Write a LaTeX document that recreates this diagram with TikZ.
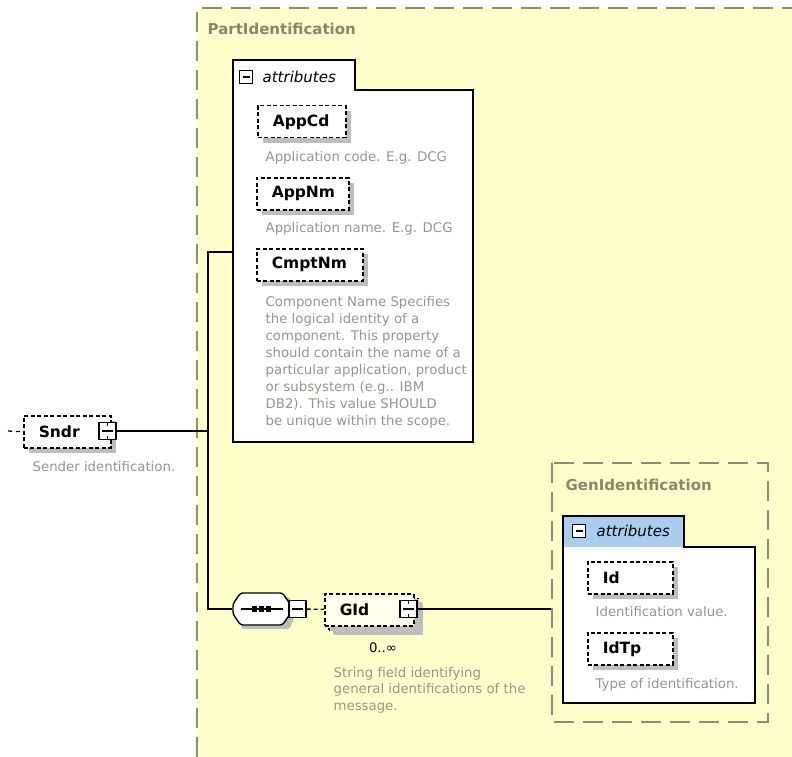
\documentclass[tikz,border=0pt]{standalone}
\usepackage{fontspec}
\setmainfont{DejaVu Sans}
\usetikzlibrary{shadows}

\definecolor{partbg}{RGB}{255,255,204}
\definecolor{edgegray}{RGB}{140,140,120}
\definecolor{docgray}{RGB}{150,150,140}
\definecolor{labelgray}{RGB}{135,135,105}
\definecolor{tabblue}{RGB}{170,205,240}
\definecolor{shadowgray}{RGB}{190,190,190}

\newcommand{\elemfont}{\fontsize{15.5}{18}\selectfont\bfseries}
\newcommand{\descfont}{\fontsize{13.3}{17}\selectfont}
\newcommand{\grpfont}{\fontsize{15}{18}\selectfont\bfseries}
\newcommand{\tabfont}{\fontsize{15}{18}\selectfont\itshape}

\tikzset{
    elem/.style={draw, line width=1.5pt, dash pattern=on 4pt off 2.5pt, fill=white, text width=#1, align=left,
        minimum height=32pt, inner xsep=15pt, inner ysep=0pt, anchor=north west, font=\elemfont,
        drop shadow={shadow xshift=5pt, shadow yshift=-5pt, fill=shadowgray, opacity=1}},
    minus/.style={draw, line width=1.2pt, fill=white, minimum size=17pt, inner sep=0pt,
        path picture={\draw[line width=1.2pt] ([xshift=3pt]path picture bounding box.west) -- ([xshift=-3pt]path picture bounding box.east);}},
    tabminus/.style={minus, minimum size=13pt, line width=1pt},
    desc/.style={anchor=north west, inner sep=0pt, align=left, text=docgray, font=\descfont},
    grplabel/.style={anchor=west, inner sep=0pt, text=labelgray, font=\grpfont},
    tablabel/.style={anchor=west, inner sep=0pt, font=\tabfont},
    grpline/.style={draw=edgegray, line width=1.2pt, dash pattern=on 20pt off 9pt},
    panel/.style={draw, line width=1.6pt},
    seqbox/.style={minimum width=57pt, minimum height=32pt, inner sep=0pt},
    seqline/.style={draw, line width=1.4pt, fill=white, rounded corners=2.5pt}
}

\begin{document}
\begin{tikzpicture}[x=1pt, y=-1pt, line width=1.3pt]
    \useasboundingbox (0,0) rectangle (792,757);
    \fill[white] (0,0) rectangle (792,757);

    % PartIdentification group
    \fill[partbg] (197,8) rectangle (792,757);
    \draw[grpline] (197,757) -- (197,8) -- (792,8);
    \node[grplabel] (partlbl) at (207,29) {PartIdentification};

    \draw[panel, fill=white] (233,60) -- (355,60) -- (355,90) -- (473,90) -- (473,442) -- (233,442) -- cycle;
    \node[tabminus] (attrx) at (246,77) {};
    \node[tablabel] (attrlbl) at (262,77) {attributes};

    \node[elem=58pt] (appcd) at (257,105) {AppCd};
    \node[desc] (appcddoc) at (265,150.5) {Application code. E.g. DCG};
    \node[elem=62pt] (appnm) at (256,177) {AppNm};
    \node[desc] (appnmdoc) at (265,221.5) {Application name. E.g. DCG};
    \node[elem=76pt] (cmptnm) at (256,248) {CmptNm};
    \node[desc] (cmptnmdoc) at (265,295.5) {Component Name Specifies\\the logical identity of a\\component. This property\\should contain the name of a\\particular application, product\\or subsystem (e.g.. IBM\\DB2). This value SHOULD\\be unique within the scope.};

    % Sndr
    \node[elem=57pt] (sndr) at (23,415) {Sndr};
    \node[minus] (sndrx) at (107.5,431) {};
    \draw[line width=1pt] (sndrx.north) -- ++(0,4) (sndrx.south) -- ++(0,-4);
    \node[desc] (sndrdoc) at (32,460.5) {Sender identification.};
    \coordinate (sndrin) at (8,431);
    \draw[dash pattern=on 4pt off 4pt] (sndrin) -- (sndr.west);

    % sequence and GId
    \node[seqbox] (seq) at (261.5,609) {};
    \begin{scope}[shift={(seq.center)}]
        \fill[shadowgray, rounded corners=2.5pt] (-20,-12) -- (28,-12) -- (32.5,-2) -- (32.5,10) -- (28,20) -- (-20,20) -- cycle;
        \draw[seqline] (-21,-16) -- (21,-16) -- (28.5,-5) -- (28.5,5) -- (21,16) -- (-21,16) -- (-28.5,5) -- (-28.5,-5) -- cycle;
        \draw (-21,0) -- (21,0);
        \foreach \dx in {-7,0,7}
            \fill (\dx,0) +(-2.6,-2.6) rectangle +(2.6,2.6);
    \end{scope}
    \node[minus] (seqx) at (297.5,609) {};

    \node[elem=59pt, fill=white, drop shadow={shadow xshift=4pt, shadow yshift=-4pt, fill=shadowgray, opacity=1}] (gidbk) at (328,597) {\phantom{GId}};
    \node[elem=59pt, fill=white!60!partbg] (gid) at (324,593) {GId};
    \node[minus] (gidx) at (408.5,609) {};
    \draw[line width=1pt] (gidx.north) -- ++(0,4) (gidx.south) -- ++(0,-4);
    \node[inner sep=0pt, font=\descfont] (gidocc) at (383,648) {0..∞};
    \node[desc, font=\fontsize{13.3}{16.5}\selectfont] (giddoc) at (333,666.5) {String field identifying\\general identifications of the\\message.};

    % connectors
    \coordinate (jn) at (208,431);
    \coordinate (attrin) at (233,252);
    \coordinate (genin) at (563,609);
    \draw (sndrx) -- (jn);
    \draw (attrin) -| (jn) |- (seq);
    \draw[dash pattern=on 4pt off 3pt] (seqx) -- (gid);
    \draw (gidx) -- (genin);

    % GenIdentification group
    \draw[grpline, fill=partbg] (552,463) rectangle (768,722);
    \node[grplabel] (genlbl) at (565,485) {GenIdentification};
    \fill[white] (563,547) rectangle (755,703);
    \fill[tabblue] (563,516) rectangle (684,547);
    \draw[panel] (563,516) -- (684,516) -- (684,547) -- (755,547) -- (755,703) -- (563,703) -- cycle;
    \node[tabminus] (genx) at (579,531) {};
    \node[tablabel] (genattrlbl) at (596,531) {attributes};

    \node[elem=55pt] (id) at (587,561) {Id};
    \node[desc] (iddoc) at (595,605.5) {Identification value.};
    \node[elem=55pt] (idtp) at (587,632) {IdTp};
    \node[desc] (idtpdoc) at (595,677.5) {Type of identification.};
\end{tikzpicture}
\end{document}
